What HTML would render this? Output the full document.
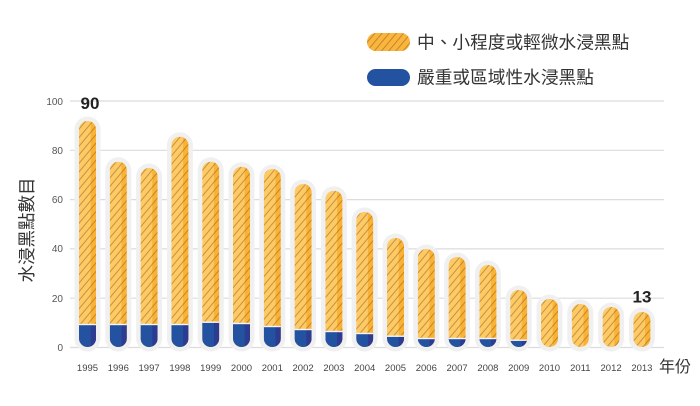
<!DOCTYPE html>
<html>
<head>
<meta charset="utf-8">
<style>
html,body{margin:0;padding:0;background:#fff;}
svg{display:block;}
text{font-family:"Liberation Sans","Noto Sans CJK TC",sans-serif;}
</style>
</head>
<body>
<svg width="700" height="406" viewBox="0 0 700 406" xmlns="http://www.w3.org/2000/svg">
<defs>
  <pattern id="hatch" patternUnits="userSpaceOnUse" width="5.5" height="12" patternTransform="rotate(40)">
    <line x1="0.5" y1="0" x2="0.5" y2="12" stroke="#7a5a20" stroke-opacity="0.6" stroke-width="0.8"/>
  </pattern>
</defs>

<!-- gridlines -->
<g stroke="#dcdcdc" stroke-width="1.2">
  <line x1="70" y1="101" x2="664" y2="101"/>
  <line x1="70" y1="150.3" x2="664" y2="150.3"/>
  <line x1="70" y1="199.6" x2="664" y2="199.6"/>
  <line x1="70" y1="248.9" x2="664" y2="248.9"/>
  <line x1="70" y1="298.2" x2="664" y2="298.2"/>
  <line x1="70" y1="347.5" x2="664" y2="347.5"/>
</g>

<!-- y tick labels -->
<g font-size="10" fill="#555" text-anchor="end">
  <text x="63" y="105">100</text>
  <text x="63" y="154">80</text>
  <text x="63" y="203">60</text>
  <text x="63" y="252">40</text>
  <text x="63" y="302">20</text>
  <text x="63" y="351">0</text>
</g>

<!-- y axis title -->
<text x="0" y="0" font-size="17.5" fill="#333" text-anchor="middle" transform="translate(33,230) rotate(-90)">水浸黑點數目</text>

<!-- bars -->
<g id="bars"></g>

<!-- x labels -->
<g font-size="9.5" fill="#444" text-anchor="middle" id="xl"></g>
<text x="659" y="372" font-size="16" fill="#333">年份</text>

<!-- value labels -->
<text x="90" y="109" font-size="17" font-weight="bold" fill="#222" text-anchor="middle">90</text>
<text x="642" y="302.5" font-size="17" font-weight="bold" fill="#222" text-anchor="middle">13</text>

<!-- legend -->
<rect x="367" y="33" width="43" height="18" rx="9" fill="#FBB43C"/>
<rect x="367" y="33" width="43" height="18" rx="9" fill="url(#hatch)"/>
<text x="417" y="48.5" font-size="17.7" fill="#333">中、小程度或輕微水浸黑點</text>
<rect x="367" y="69" width="43" height="17" rx="8.5" fill="#2352A0"/>
<text x="417" y="83.5" font-size="17.7" fill="#333">嚴重或區域性水浸黑點</text>
</svg>

<script>
(function(){
  var NS="http://www.w3.org/2000/svg";
  var data=[
    [1995,121,325],[1996,161.7,325],[1997,168,325],[1998,136.7,325],[1999,161.7,322.7],
    [2000,166.7,324],[2001,169,327],[2002,184,330],[2003,190.7,332],[2004,212,334],
    [2005,238,336.7],[2006,249,339],[2007,257,339],[2008,265,339],[2009,290,340.7],
    [2010,299,null],[2011,304,null],[2012,307,null],[2013,312,null]
  ];
  var svg=document.querySelector("svg");
  var defs=svg.querySelector("defs");
  var g=document.getElementById("bars");
  var xl=document.getElementById("xl");
  var bottom=347, w=17;
  function el(n,a,p){var e=document.createElementNS(NS,n);for(var k in a)e.setAttribute(k,a[k]);(p||g).appendChild(e);return e;}
  data.forEach(function(d,i){
    var cx=87.5+30.8*i, top=d[1], bt=d[2];
    var x=cx-w/2;
    // halo
    el("rect",{x:cx-13,y:top-4.5,width:26,height:bottom-top+9,rx:13,fill:"#f0f0f0"});
    // clip
    var cp=el("clipPath",{id:"c"+i},defs);
    el("rect",{x:x,y:top,width:w,height:bottom-top,rx:w/2},cp);
    var bg=el("g",{"clip-path":"url(#c"+i+")"});
    el("rect",{x:x,y:top,width:w,height:bottom-top,fill:"#FFC964"},bg);
    el("rect",{x:cx+3.2,y:top,width:w/2-3.2,height:bottom-top,fill:"#FBB133"},bg);
    el("rect",{x:x,y:top,width:w,height:bottom-top,fill:"url(#hatch)"},bg);
    if(bt!==null){
      el("rect",{x:x,y:bt,width:w,height:bottom-bt,fill:"#2352A0"},bg);
      el("rect",{x:cx+3.2,y:bt,width:w/2-3.2,height:bottom-bt,fill:"#2D3C91"},bg);
      el("rect",{x:x,y:bt-1.2,width:w,height:1.4,fill:"#f4f4f4"},bg);
    }
    var t=el("text",{x:cx,y:371},xl);
    t.textContent=d[0];
  });
})();
</script>
</body>
</html>
